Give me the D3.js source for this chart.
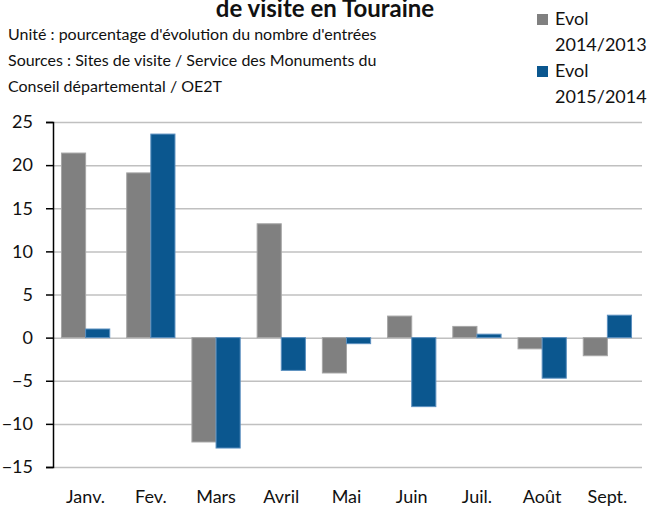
<meta charset="utf-8">
<style>
body { margin: 0; background: #fff; }
svg text { font-family: Lato, sans-serif; fill: #111; }
.grid line { stroke: #c0c0c0; stroke-width: 1.5; }
.grid path { display: none; }
.y.axis path, .y.axis line { stroke: #000; stroke-width: 1.5; }
</style>
<body>
<div id="chart"></div>
<script src="https://d3js.org/d3.v7.min.js"></script>
<script>
var months = ["Janv.", "Fev.", "Mars", "Avril", "Mai", "Juin", "Juil.", "Août", "Sept."];
var evol2014 = [21.4, 19.1, -12.1, 13.2, -4.1, 2.5, 1.3, -1.3, -2.1];
var evol2015 = [1.0, 23.6, -12.8, -3.8, -0.7, -8.0, 0.4, -4.7, 2.6];
var seriesNames = ["Evol 2014/2013", "Evol 2015/2014"];
var yTicks = [25, 20, 15, 10, 5, 0, -5, -10, -15];
var colors = ["#808080", "#0b578f"];

var width = 650, height = 506,
    margin = {top: 122, right: 10, bottom: 39, left: 53};

var svg = d3.select("#chart").append("svg")
    .attr("width", width)
    .attr("height", height);

var x0 = d3.scaleBand().domain(months)
    .range([margin.left, width - margin.right]).paddingInner(0.26).paddingOuter(0.13);
var x1 = d3.scaleBand().domain([0, 1]).range([0, x0.bandwidth()]);
var y = d3.scaleLinear().domain([-15, 25]).range([height - margin.bottom, margin.top]);

// gridlines
svg.append("g")
  .attr("class", "grid")
  .attr("transform", "translate(" + margin.left + ",0)")
  .call(d3.axisRight(y).tickValues(yTicks).tickSize(width - margin.right - margin.left + 2).tickFormat(""));

var data = months.map(function(m, i) { return {month: m, vals: [evol2014[i], evol2015[i]]}; });

var groups = svg.selectAll(".month")
  .data(data)
  .enter().append("g")
  .attr("class", "month")
  .attr("transform", function(d) { return "translate(" + x0(d.month) + ",0)"; });

groups.selectAll("rect")
  .data(function(d) { return d.vals.map(function(v, k) { return {k: k, v: v}; }); })
  .enter().append("rect")
  .attr("x", function(d) { return x1(d.k); })
  .attr("y", function(d) { return y(Math.max(0, d.v)); })
  .attr("width", x1.bandwidth())
  .attr("height", function(d) { return Math.abs(y(d.v) - y(0)); })
  .attr("fill", function(d) { return colors[d.k]; })
  .attr("stroke", function(d) { return d.k ? "#5b8fbf" : "#a6a6a6"; })
  .attr("stroke-width", 1);

// y axis
var yAxis = svg.append("g")
  .attr("class", "y axis")
  .attr("transform", "translate(" + margin.left + ",0)")
  .call(d3.axisLeft(y).tickValues(yTicks).tickSize(7).tickSizeOuter(7).tickPadding(13));
yAxis.selectAll("text").style("font-size", "18px").attr("fill", "#111");

// x labels
svg.append("g").selectAll("text")
  .data(months)
  .enter().append("text")
  .attr("x", function(d) { return x0(d) + x0.bandwidth() / 2; })
  .attr("y", 503)
  .attr("text-anchor", "middle")
  .style("font-size", "18px")
  .text(function(d) { return d; });

// title (top line is cut off in the original) and notes
svg.append("text")
  .attr("x", 325).attr("y", 17)
  .attr("text-anchor", "middle")
  .style("font-size", "24px").style("font-weight", "bold")
  .text("de visite en Touraine");

var notes = ["Unité : pourcentage d'évolution du nombre d'entrées",
             "Sources : Sites de visite / Service des Monuments du",
             "Conseil départemental / OE2T"];
svg.append("g").selectAll("text")
  .data(notes)
  .enter().append("text")
  .attr("x", 8)
  .attr("y", function(d, i) { return 40 + i * 26; })
  .style("font-size", "16px")
  .text(function(d) { return d; });

// legend
var legend = svg.append("g").selectAll("g")
  .data(seriesNames)
  .enter().append("g")
  .attr("transform", function(d, i) { return "translate(537," + (14 + i * 52) + ")"; });

legend.append("rect")
  .attr("width", 11).attr("height", 11)
  .attr("fill", function(d, i) { return colors[i]; });

legend.append("text")
  .attr("x", 18).attr("y", 11)
  .style("font-size", "18px")
  .text(function(d) { return d.split(" ")[0]; });
legend.append("text")
  .attr("x", 18).attr("y", 37)
  .style("font-size", "18px")
  .text(function(d) { return d.split(" ")[1]; });
</script>
</body>
